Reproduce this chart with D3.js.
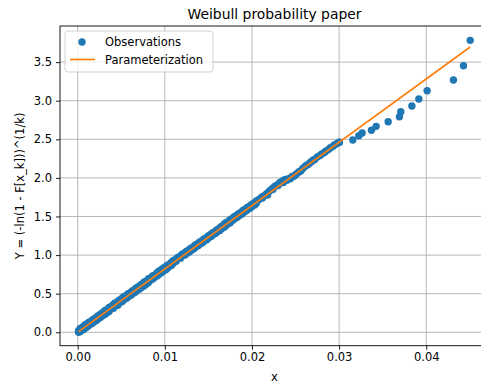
<!DOCTYPE html>
<html><head><meta charset="utf-8">
<script src="https://cdn.jsdelivr.net/npm/d3@7"></script>
<style>body{margin:0;background:#fff}svg{display:block}text{font-family:"DejaVu Sans",sans-serif}</style>
</head><body><svg id="c" width="481" height="387"></svg>
<script>
const obsX = [0.0001,0.0003,0.0005,0.0007,0.0009,0.0011,0.0013,0.0016,0.0018,0.0021,0.0023,0.0026,0.0028,0.0031,0.0033,0.0036,0.0038,0.0041,0.0043,0.0046,0.0048,0.0051,0.0053,0.0056,0.0058,0.0061,0.0063,0.0066,0.0068,0.0071,0.0073,0.0076,0.0078,0.0081,0.0083,0.0086,0.0088,0.0091,0.0093,0.0096,0.0098,0.0101,0.0103,0.0106,0.0108,0.0110,0.0113,0.0115,0.0118,0.0120,0.0123,0.0125,0.0128,0.0130,0.0133,0.0135,0.0138,0.0140,0.0143,0.0145,0.0148,0.0150,0.0153,0.0155,0.0158,0.0160,0.0163,0.0165,0.0168,0.0170,0.0173,0.0175,0.0178,0.0180,0.0183,0.0185,0.0188,0.0190,0.0193,0.0195,0.0198,0.0200,0.0203,0.0205,0.0208,0.0211,0.0214,0.0217,0.0220,0.0223,0.0226,0.0229,0.0232,0.0235,0.0238,0.0242,0.0246,0.0250,0.0254,0.0258,0.0262,0.0266,0.0270,0.0275,0.0280,0.0285,0.0290,0.0295,0.0300,0.03003,0.03157,0.03226,0.03264,0.03371,0.03425,0.03563,0.03692,0.03708,0.03835,0.03915,0.04010,0.04312,0.04427,0.04504,
  0.0001,0.0005,0.0009,0.0013,0.0018,0.0023,0.0028,0.0033,0.0038,0.0043,0.0048,0.0053,0.0058,0.0063,0.0068,0.0073,0.0078,0.0083,0.0088,0.0093,0.0098,0.0103,0.0108,0.0113,0.0118,0.0123,0.0128,0.0133,0.0138,0.0143,0.0148,0.0153,0.0158,0.0163,0.0168,0.0173,0.0178,0.0183,0.0188,0.0193,0.0198,0.0203,
  0.0003,0.0007,0.0011,0.0016,0.0021,0.0026,0.0031,0.0036,0.0041,0.0046,0.0051,0.0056,0.0061,0.0066,0.0071,0.0076,0.0081,0.0086,0.0091,0.0096,0.0101,0.0106,0.0110,0.0115,0.0120,0.0125,0.0130,0.0135,0.0140,0.0145,0.0150,0.0155,0.0160,0.0165,0.0170,0.0175,0.0180,0.0185,0.0190,0.0195,0.0200,0.0205,
  0.0212,0.0218,0.0224,0.0230,0.0236,0.0240,0.0244,0.0248,0.0252,0.0256,0.0260,0.0264,0.0268,0.0272,0.0278,0.0283,0.0288,0.0293,0.0298];
const obsY = [0.02,0.01,0.06,0.04,0.10,0.07,0.13,0.11,0.17,0.15,0.21,0.19,0.25,0.23,0.29,0.27,0.33,0.31,0.38,0.35,0.42,0.40,0.46,0.44,0.50,0.48,0.54,0.52,0.58,0.56,0.62,0.60,0.66,0.64,0.70,0.69,0.74,0.73,0.79,0.77,0.83,0.81,0.87,0.86,0.91,0.90,0.95,0.96,0.99,0.99,1.03,1.02,1.07,1.06,1.11,1.10,1.15,1.14,1.19,1.18,1.23,1.22,1.27,1.26,1.31,1.30,1.35,1.34,1.40,1.38,1.44,1.42,1.48,1.47,1.52,1.51,1.56,1.55,1.60,1.59,1.64,1.63,1.68,1.67,1.72,1.75,1.77,1.80,1.83,1.86,1.89,1.91,1.94,1.96,1.98,1.99,2.02,2.04,2.08,2.12,2.16,2.19,2.23,2.27,2.31,2.35,2.39,2.43,2.46,2.461,2.491,2.547,2.581,2.617,2.668,2.728,2.793,2.857,2.931,3.022,3.130,3.268,3.453,3.782,
  0.00,0.03,0.06,0.09,0.13,0.17,0.21,0.25,0.30,0.34,0.38,0.42,0.46,0.50,0.54,0.58,0.62,0.67,0.71,0.75,0.79,0.83,0.87,0.92,0.96,1.00,1.04,1.08,1.12,1.16,1.20,1.24,1.28,1.32,1.36,1.41,1.45,1.49,1.53,1.57,1.61,1.65,
  0.05,0.08,0.11,0.15,0.19,0.23,0.28,0.32,0.36,0.40,0.44,0.48,0.52,0.56,0.60,0.65,0.69,0.73,0.77,0.81,0.85,0.89,0.93,0.97,1.01,1.05,1.09,1.13,1.17,1.21,1.25,1.29,1.33,1.37,1.42,1.46,1.50,1.54,1.58,1.62,1.66,1.70,
  1.74,1.78,1.85,1.90,1.94,1.97,1.99,2.02,2.06,2.09,2.14,2.17,2.21,2.24,2.29,2.33,2.37,2.41,2.45];
const fitX = [0.0001, 0.04504];
const fitY = [0.008, 3.696];
const xTicks = [0, 0.01, 0.02, 0.03, 0.04];
const yTicks = [0, 0.5, 1.0, 1.5, 2.0, 2.5, 3.0, 3.5];
const title = "Weibull probability paper";
const xLabel = "x";
const yLabel = "Y = (-ln(1 - F[x_k]))^(1/k)";
const legendLabels = ["Observations", "Parameterization"];

const svg = d3.select("#c");
const L = 60, R = 489, T = 26, B = 345.7;
const x = d3.scaleLinear().domain([-0.00203, 0.0472]).range([L, R]);
const y = d3.scaleLinear().domain([-0.174, 3.968]).range([B, T]);
const blue = "#1f77b4", orange = "#ff7f0e";
const FS = 11.5;

// grid
const g = svg.append("g");
g.selectAll(".gx").data(xTicks).join("line")
  .attr("x1", d => x(d)).attr("x2", d => x(d)).attr("y1", T).attr("y2", B)
  .attr("stroke", "#b0b0b0").attr("stroke-width", 0.9);
g.selectAll(".gy").data(yTicks).join("line")
  .attr("y1", d => y(d)).attr("y2", d => y(d)).attr("x1", L).attr("x2", R)
  .attr("stroke", "#b0b0b0").attr("stroke-width", 0.9);

// points
const pts = obsX.map((v, i) => [v, obsY[i]]);
svg.append("g").selectAll("circle").data(pts).join("circle")
  .attr("cx", d => x(d[0])).attr("cy", d => y(d[1])).attr("r", 3.7)
  .attr("fill", blue);

// fit line
svg.append("path").datum(fitX.map((v, i) => [v, fitY[i]]))
  .attr("d", d3.line().x(d => x(d[0])).y(d => y(d[1])))
  .attr("fill", "none").attr("stroke", orange).attr("stroke-width", 1.7);

// axes
const ax = svg.append("g").attr("transform", `translate(0,${B})`)
  .call(d3.axisBottom(x).tickValues(xTicks).tickFormat(d3.format(".2f")).tickSize(4).tickPadding(3.5));
const ay = svg.append("g").attr("transform", `translate(${L},0)`)
  .call(d3.axisLeft(y).tickValues(yTicks).tickFormat(d3.format(".1f")).tickSize(4).tickPadding(4));
[ax, ay].forEach(a => {
  a.select(".domain").remove();
  a.selectAll("line").attr("stroke", "#000").attr("stroke-width", 0.9);
  a.selectAll("text").attr("font-size", FS).attr("fill", "#000").attr("font-family", "DejaVu Sans");
});
// spines
svg.append("rect").attr("x", L).attr("y", T).attr("width", R - L).attr("height", B - T)
  .attr("fill", "none").attr("stroke", "#000").attr("stroke-width", 0.9);

// labels
svg.append("text").attr("x", (L + R) / 2).attr("y", 18.5).attr("text-anchor", "middle")
  .attr("font-size", 13.9).text(title);
svg.append("text").attr("x", (L + R) / 2).attr("y", 380.5).attr("text-anchor", "middle")
  .attr("font-size", FS).text(xLabel);
svg.append("text").attr("transform", `translate(24,${(T + B) / 2}) rotate(-90)`)
  .attr("text-anchor", "middle").attr("font-size", FS).text(yLabel);

// legend
const lg = svg.append("g");
lg.append("rect").attr("x", 65).attr("y", 31).attr("width", 148).attr("height", 41).attr("rx", 3)
  .attr("fill", "#fff").attr("fill-opacity", 0.8).attr("stroke", "#cccccc").attr("stroke-width", 0.9);
lg.append("circle").attr("cx", 82).attr("cy", 42).attr("r", 3.7).attr("fill", blue);
lg.append("line").attr("x1", 70).attr("x2", 95).attr("y1", 59.5).attr("y2", 59.5)
  .attr("stroke", orange).attr("stroke-width", 1.7);
lg.selectAll("text").data(legendLabels).join("text")
  .attr("x", 105).attr("y", (d, i) => 45.7 + i * 18).attr("font-size", FS).text(d => d);
</script></body></html>
